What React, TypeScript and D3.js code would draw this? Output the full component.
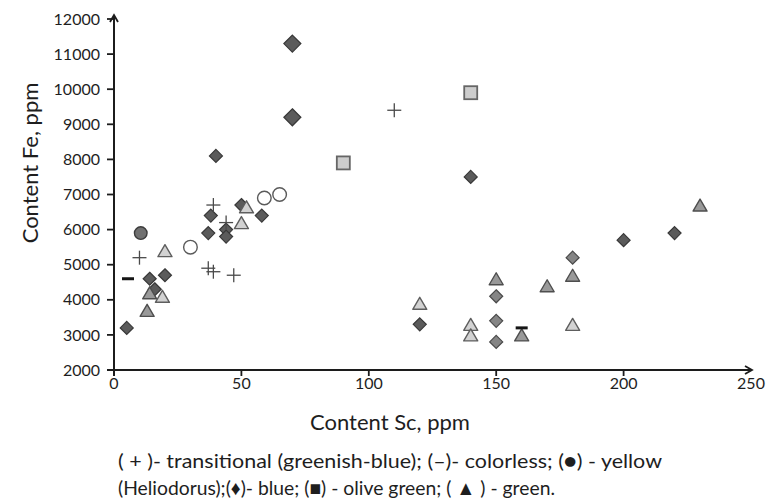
import React from "react";
import * as d3 from "d3";

// ---- data (Sc ppm, Fe ppm) ----
const plusSc = [10, 37, 39, 47, 39, 44, 110];
const plusFe = [5200, 4900, 4800, 4700, 6700, 6200, 9400];

const dashSc = [5.5, 160];
const dashFe = [4600, 3200];

const circleFilledSc = [10.5];
const circleFilledFe = [5900];

const circleOpenSc = [30, 59, 65];
const circleOpenFe = [5500, 6900, 7000];

const diamondLargeSc = [70, 70];
const diamondLargeFe = [11300, 9200];

const diamondDarkSc = [40, 140, 38, 37, 44, 44, 50, 58, 14, 20, 16, 5, 120, 200, 220];
const diamondDarkFe = [8100, 7500, 6400, 5900, 6000, 5800, 6700, 6400, 4600, 4700, 4300, 3200, 3300, 5700, 5900];

const diamondMidSc = [150, 150, 150, 180];
const diamondMidFe = [4100, 3400, 2800, 5200];

const squareSc = [90, 140];
const squareFe = [7900, 9900];

const triangleLightSc = [20, 52, 50, 19, 120, 140, 140, 180];
const triangleLightFe = [5400, 6650, 6200, 4100, 3900, 3300, 3000, 3300];

const triangleMidSc = [13, 14, 150, 160, 170, 180, 230];
const triangleMidFe = [3700, 4200, 4600, 3000, 4400, 4700, 6700];

const xTicks = [0, 50, 100, 150, 200, 250];
const yTicks = [2000, 3000, 4000, 5000, 6000, 7000, 8000, 9000, 10000, 11000, 12000];

const xTitle = "Content Sc, ppm";
const yTitle = "Content Fe, ppm";
const legendLines = [
  "( + )- transitional (greenish-blue); (–)- colorless; (●) - yellow",
  "(Heliodorus);(♦)- blue; (■) - olive green; ( ▲ ) - green.",
];
const legendWidths = [544, 437];

const FONT = "Lato, 'Open Sans', sans-serif";

export default function App() {
  const W = 768;
  const H = 503;
  const x = d3.scaleLinear().domain([0, 250]).range([114, 751]);
  const y = d3.scaleLinear().domain([2000, 12000]).range([370, 19]);
  const x0 = x(0);
  const y0 = y(2000);
  const axisColor = "#1c1c1c";

  const zip = (a: number[], b: number[]) => a.map((v, i) => [v, b[i]] as [number, number]);

  const diamond = (cx: number, cy: number, h: number) =>
    `M${cx},${cy - h}L${cx + h},${cy}L${cx},${cy + h}L${cx - h},${cy}Z`;
  const triangle = (cx: number, cy: number, w: number, h: number) =>
    `M${cx},${cy - h / 2}L${cx + w / 2},${cy + h / 2}L${cx - w / 2},${cy + h / 2}Z`;

  return (
    <svg width={W} height={H} style={{ position: "absolute", left: 0, top: 0, background: "#fff" }}>
      <rect x={0} y={0} width={W} height={H} fill="#fff" />
      {/* axes */}
      <line x1={x0} y1={y0 + 6} x2={x0} y2={16} stroke={axisColor} strokeWidth={2} />
      <path d={`M${x0 - 4},${22}L${x0},${15}L${x0 + 4},${22}`} fill="none" stroke={axisColor} strokeWidth={1.8} />
      <line x1={x0 - 7} y1={y0} x2={x(250) + 1} y2={y0} stroke={axisColor} strokeWidth={2} />
      <path d={`M${x(250) - 6},${y0 - 4}L${x(250) + 1},${y0}L${x(250) - 6},${y0 + 4}`} fill="none" stroke={axisColor} strokeWidth={1.8} />
      {yTicks.map((t) => (
        <g key={"yt" + t}>
          <line x1={x0 - 7} x2={x0} y1={y(t)} y2={y(t)} stroke={axisColor} strokeWidth={1.8} />
          <text x={x0 - 14} y={y(t)} dy="0.35em" textAnchor="end" fontFamily={FONT} fontSize={16} fill="#1e1e1e">
            {t}
          </text>
        </g>
      ))}
      {xTicks.map((t) => (
        <g key={"xt" + t}>
          {t < 250 && <line x1={x(t)} x2={x(t)} y1={y0} y2={y0 + 6} stroke={axisColor} strokeWidth={1.8} />}
          <text x={x(t)} y={y0 + 19} textAnchor="middle" fontFamily={FONT} fontSize={16} fill="#1e1e1e">
            {t}
          </text>
        </g>
      ))}
      <text x={390} y={430} textAnchor="middle" fontFamily={FONT} fontSize={22} fill="#1e1e1e">
        {xTitle}
      </text>
      <text
        transform={`translate(38,163) rotate(-90)`}
        textAnchor="middle"
        fontFamily={FONT}
        fontSize={22}
        fill="#1e1e1e"
      >
        {yTitle}
      </text>
      {legendLines.map((l, i) => (
        <text
          key={"lg" + i}
          x={118}
          y={468 + i * 27}
          fontFamily={FONT}
          fontSize={20}
          fill="#1e1e1e"
          textLength={legendWidths[i]}
          lengthAdjust="spacingAndGlyphs"
        >
          {l}
        </text>
      ))}

      {/* markers */}
      {zip(diamondDarkSc, diamondDarkFe).map(([a, b], i) => (
        <path key={"dd" + i} d={diamond(x(a), y(b), 6.5)} fill="#5b5b5b" stroke="#383838" strokeWidth={1.2} />
      ))}
      {zip(diamondMidSc, diamondMidFe).map(([a, b], i) => (
        <path key={"dm" + i} d={diamond(x(a), y(b), 6.5)} fill="#858585" stroke="#4a4a4a" strokeWidth={1.2} />
      ))}
      {zip(diamondLargeSc, diamondLargeFe).map(([a, b], i) => (
        <path key={"dl" + i} d={diamond(x(a), y(b), 8.5)} fill="#5b5b5b" stroke="#383838" strokeWidth={1.2} />
      ))}
      {zip(squareSc, squareFe).map(([a, b], i) => (
        <rect key={"sq" + i} x={x(a) - 6.5} y={y(b) - 6.5} width={13} height={13} fill="#cdcdcd" stroke="#666" strokeWidth={1.8} />
      ))}
      {zip(triangleMidSc, triangleMidFe).map(([a, b], i) => (
        <path key={"tm" + i} d={triangle(x(a), y(b), 14, 12)} fill="#999" stroke="#4e4e4e" strokeWidth={1.4} strokeLinejoin="round" />
      ))}
      {zip(triangleLightSc, triangleLightFe).map(([a, b], i) => (
        <path key={"tl" + i} d={triangle(x(a), y(b), 14, 12)} fill="#d2d2d2" stroke="#5e5e5e" strokeWidth={1.4} strokeLinejoin="round" />
      ))}
      {zip(circleFilledSc, circleFilledFe).map(([a, b], i) => (
        <circle key={"cf" + i} cx={x(a)} cy={y(b)} r={6.3} fill="#707070" stroke="#3c3c3c" strokeWidth={1.4} />
      ))}
      {zip(circleOpenSc, circleOpenFe).map(([a, b], i) => (
        <circle key={"co" + i} cx={x(a)} cy={y(b)} r={6.8} fill="#fff" stroke="#5a5a5a" strokeWidth={1.4} />
      ))}
      {zip(plusSc, plusFe).map(([a, b], i) => (
        <g key={"pl" + i} stroke="#4a4a4a" strokeWidth={1.3}>
          <line x1={x(a) - 7} x2={x(a) + 7} y1={y(b)} y2={y(b)} />
          <line x1={x(a)} x2={x(a)} y1={y(b) - 7} y2={y(b) + 7} />
        </g>
      ))}
      {zip(dashSc, dashFe).map(([a, b], i) => (
        <line key={"da" + i} x1={x(a) - 6} x2={x(a) + 6} y1={y(b)} y2={y(b)} stroke="#151515" strokeWidth={3} />
      ))}
    </svg>
  );
}
